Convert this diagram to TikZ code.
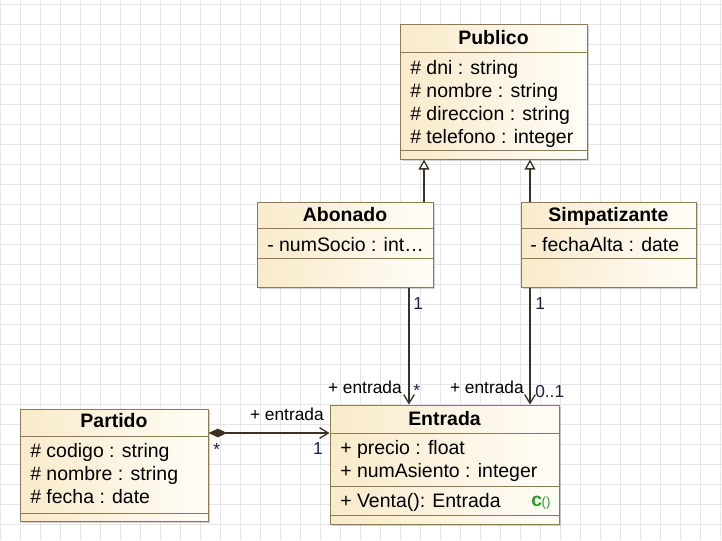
\documentclass[tikz,border=0pt]{standalone}
\usepackage{fontspec}
\setmainfont{Liberation Sans}
\usetikzlibrary{arrows.meta,fit,shadows}
\definecolor{gridc}{HTML}{E6E6E6}
\definecolor{boxborder}{HTML}{8C7A55}
\definecolor{boxleft}{HTML}{F9EACA}
\definecolor{boxright}{HTML}{FFFDF8}
\definecolor{linec}{HTML}{3B3226}
\definecolor{multc}{HTML}{1E1E4A}
\definecolor{opgreen}{HTML}{2A9A2A}
\tikzset{
  gridline/.style={draw=gridc, line width=0.75pt},
  classbox/.style={draw=boxborder, line width=0.75pt, inner sep=0pt,
    left color=boxleft, right color=boxright,
    drop shadow={shadow xshift=1.6pt, shadow yshift=-1.6pt, opacity=0.35, fill=gray}},
  secline/.style={draw=boxborder, line width=0.75pt},
  txt/.style={font=\fontsize{14.6pt}{17pt}\selectfont, inner sep=0pt, anchor=base west},
  ttl/.style={font=\fontsize{14.6pt}{17pt}\selectfont\bfseries, inner sep=0pt, anchor=base},
  lbl/.style={font=\fontsize{13pt}{15pt}\selectfont, inner sep=0pt},
  mult/.style={font=\fontsize{13pt}{15pt}\selectfont, inner sep=0pt, text=multc},
  gen/.style={draw=linec, line width=1pt, -{Triangle[open, length=7.5pt, width=8pt, fill=white]}},
  assoc/.style={draw=linec, line width=1pt, -{Straight Barb[length=6.5pt, width=8pt]}},
  comp/.style={draw=linec, line width=1pt, {Diamond[length=14pt, width=6.5pt, fill=linec]}-{Straight Barb[length=6.5pt, width=8pt]}},
}
\begin{document}
\begin{tikzpicture}[x=0.75pt, y=-0.75pt]
\useasboundingbox (0,0) rectangle (722,540);
\fill[white] (0,0) rectangle (722,540);
% grid
\foreach \gx in {0,20,...,720} \draw[gridline] (\gx,0) -- (\gx,540);
\foreach \gy in {4,24,...,524} \draw[gridline] (0,\gy) -- (722,\gy);

% Publico
\node[classbox, fit={(400,24) (587,159)}] (publico) {};
\draw[secline] (400,52) -- (587,52);
\draw[secline] (400,150) -- (587,150);
\node[ttl] (pubT) at (493.5,44) {Publico};
\node[txt] (pub1) at (410,74) {\# dni : string};
\node[txt] (pub2) at (410,97) {\# nombre : string};
\node[txt] (pub3) at (410,120) {\# direccion : string};
\node[txt] (pub4) at (410,143) {\# telefono : integer};

% Abonado
\node[classbox, fit={(257,202) (433,287)}] (abonado) {};
\draw[secline] (257,228) -- (433,228);
\draw[secline] (257,258) -- (433,258);
\node[ttl] (aboT) at (345,221) {Abonado};
\node[txt] (abo1) at (267,251) {- numSocio : int…};

% Simpatizante
\node[classbox, fit={(521,202) (696,287)}] (simpat) {};
\draw[secline] (521,228) -- (696,228);
\draw[secline] (521,258) -- (696,258);
\node[ttl] (simT) at (608.5,221) {Simpatizante};
\node[txt] (sim1) at (530,251) {- fechaAlta : date};

% Entrada
\node[classbox, fit={(330,405) (559,524)}] (entrada) {};
\draw[secline] (330,433) -- (559,433);
\draw[secline] (330,486) -- (559,486);
\draw[secline] (330,515) -- (559,515);
\node[ttl] (entT) at (444.5,425) {Entrada};
\node[txt] (ent1) at (340,454) {+ precio : float};
\node[txt] (ent2) at (340,477) {+ numAsiento : integer};
\node[txt] (ent3) at (340,507) {+ Venta(): Entrada};
\node[inner sep=0pt, anchor=base west, text=opgreen] (entIcon) at (531,506)
  {\fontsize{14.5pt}{16pt}\selectfont\bfseries c\kern-0.3pt\fontsize{10pt}{12pt}\selectfont\mdseries ()};

% Partido
\node[classbox, fit={(20,409) (208,521)}] (partido) {};
\draw[secline] (20,436) -- (208,436);
\draw[secline] (20,513) -- (208,513);
\node[ttl] (parT) at (114,427) {Partido};
\node[txt] (par1) at (30,457) {\# codigo : string};
\node[txt] (par2) at (30,480) {\# nombre : string};
\node[txt] (par3) at (30,503) {\# fecha : date};

% generalizations
\draw[gen] (abonado.north -| 424,0) -- (publico.south -| 424,0);
\draw[gen] (simpat.north -| 530,0) -- (publico.south -| 530,0);

% associations
\draw[assoc] (abonado.south -| 409,0) -- (entrada.north -| 409,0);
\draw[assoc] (simpat.south -| 530,0) -- (entrada.north -| 530,0);
\draw[comp] (partido.east |- 0,433) -- (entrada.west |- 0,433);

% labels
\node[mult, anchor=base west] (m1) at (413,309) {1};
\node[mult, anchor=base west] (m2) at (535,309) {1};
\node[lbl, anchor=base east] (r1) at (402,393) {+ entrada};
\node[mult, anchor=base west] (m3) at (413,396) {*};
\node[lbl, anchor=base east] (r2) at (524,393) {+ entrada};
\node[mult, anchor=base west] (m4) at (535,397) {0..1};
\node[lbl, anchor=base east] (r3) at (324,420) {+ entrada};
\node[mult, anchor=base east] (m5) at (323,454) {1};
\node[mult, anchor=base west] (m6) at (213,455) {*};
\end{tikzpicture}
\end{document}
